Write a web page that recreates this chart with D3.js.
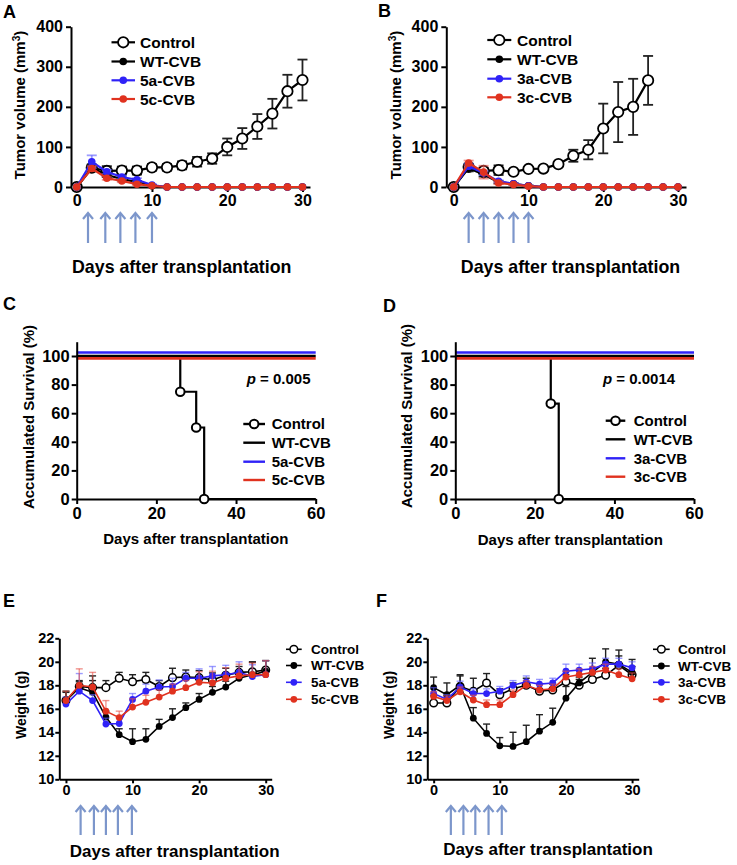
<!DOCTYPE html>
<html><head><meta charset="utf-8">
<script src="https://cdn.jsdelivr.net/npm/d3@7"></script>
<style>body{margin:0;background:#fff}svg{display:block;font-family:"Liberation Sans",Arial,sans-serif;font-weight:bold}</style>
</head><body><svg id="c" width="737" height="865"></svg>
<script>
// ---------------- DATA ----------------
const days  = [0,2,4,6,8,10,12,14,16,18,20,22,24,26,28,30];
const daysB = [0,2,4,6,8,10,12,14,16,18,20,22,24,26];
const treatDaysA = [1.5,3.8,5.8,7.8,10];
const treatDaysB = [2,4,6,8,10];
const treatDaysE = [2.2,4.2,6,7.8,9.9];
const treatDaysF = [2.6,4.5,6.3,8.3,10.3];

// Panel A tumor volume
const namesA = ["Control","WT-CVB","5a-CVB","5c-CVB"];
const ctrlA    = [0,48,40,41,41,49,49,54,63,71,100,121,151,183,239,267];
const ctrlAErr = [0,8,12,10,10,8,8,10,12,13,21,26,31,37,41,51];
const wtA      = [0,48,30,20,12,3,0,0,0,0,0,0,0,0,0,0];
const wtAErr   = [0,6,5,4,3,2,0,0,0,0,0,0,0,0,0,0];
const a5A      = [0,63,38,25,18,5,0,0,0,0,0,0,0,0,0,0];
const a5AErr   = [0,16,5,4,4,2,0,0,0,0,0,0,0,0,0,0];
const c5A      = [0,46,22,15,7,3,0,0,0,0,0,0,0,0,0,0];
const c5AErr   = [0,6,4,3,2,1,0,0,0,0,0,0,0,0,0,0];

// Panel B tumor volume
const namesB = ["Control","WT-CVB","3a-CVB","3c-CVB"];
const ctrlB    = [0,50,40,42,38,45,46,57,78,93,146,187,200,266];
const ctrlBErr = [0,8,8,12,5,5,5,5,15,24,62,75,70,61];
const wtB      = [0,47,31,12,8,3,0,0,0,0,0,0,0,0,0,0];
const wtBErr   = [0,8,5,3,2,1,0,0,0,0,0,0,0,0,0,0];
const a3B      = [0,52,35,14,8,3,0,0,0,0,0,0,0,0,0,0];
const a3BErr   = [0,6,5,3,2,1,0,0,0,0,0,0,0,0,0,0];
const c3B      = [0,60,37,10,6,2,0,0,0,0,0,0,0,0,0,0];
const c3BErr   = [0,6,16,3,2,1,0,0,0,0,0,0,0,0,0,0];

// Panel C / D survival
const namesC = ["Control","WT-CVB","5a-CVB","5c-CVB"];
const survCtrlCDays = [0,26,30,32,60];
const survCtrlC     = [100,75,50,0,0];
const survCtrlCMarkDays = [26,30,32];
const survCtrlCMark     = [75,50,0];
const namesD = ["Control","WT-CVB","3a-CVB","3c-CVB"];
const survCtrlDDays = [0,24,26,60];
const survCtrlD     = [100,66.7,0,0];
const survCtrlDMarkDays = [24,26];
const survCtrlDMark     = [66.7,0];
const survTreatDays = [0,60];
const survTreat     = [100,100];
const pC = "0.005";
const pD = "0.0014";

// Panel E weight
const namesE = ["Control","WT-CVB","5a-CVB","5c-CVB"];
const ctrlE    = [16.7,17.9,17.8,17.8,18.6,18.3,18.5,17.9,18.65,18.7,18.65,18.45,18.85,19.1,19.15,19.3];
const ctrlEErr = [0.8,0.5,0.6,0.6,0.5,0.6,0.6,0.5,0.8,0.6,0.6,0.6,0.6,0.5,0.8,0.8];
const wtE      = [16.7,17.8,17.4,15.3,13.8,13.2,13.4,14.5,15.25,16.1,16.8,17.4,17.85,18.6,18.9,19.2];
const wtEErr   = [0.7,0.5,1.4,0.5,0.5,1.1,0.9,0.6,0.75,0.4,0.5,0.5,0.5,0.6,1.1,0.9];
const a5E      = [16.4,17.5,16.7,14.7,14.75,16.8,17.5,17.85,17.9,18.6,18.6,18.8,18.9,19.1,18.75,18.9];
const a5EErr   = [0.6,1.5,0.5,0.5,0.5,0.5,0.6,0.6,0.7,0.5,0.8,0.8,0.8,0.9,1.0,1.2];
const c5E      = [16.7,18.0,17.85,15.8,15.25,16.15,16.55,17.0,17.5,17.8,18.25,18.2,18.6,18.8,18.9,18.9];
const c5EErr   = [0.8,1.4,1.25,0.9,0.55,0.7,0.6,0.6,0.6,0.6,0.9,1.0,0.9,1.0,1.0,1.2];

// Panel F weight
const namesF = ["Control","WT-CVB","3a-CVB","3c-CVB"];
const ctrlF    = [16.5,16.5,17.9,17.5,18.2,17.2,17.7,18.0,17.5,17.6,18.3,18.0,18.5,18.85,19.7,18.9];
const ctrlFErr = [0.6,0.6,0.9,1.1,0.8,0.5,0.5,0.6,0.6,0.5,0.6,0.5,0.6,0.6,0.8,0.7];
const wtF      = [17.8,17.2,18.0,15.2,13.9,12.85,12.8,13.2,14.1,14.85,16.9,18.2,19.1,20.0,19.8,19.1];
const wtFErr   = [0.9,1.0,0.9,0.9,0.8,0.7,1.2,1.4,1.4,1.2,1.0,0.5,1.2,1.1,1.2,1.1];
const a3F      = [17.3,16.8,17.85,17.3,17.3,17.5,18.0,18.3,18.1,18.2,19.2,19.3,19.4,19.8,19.8,19.5];
const a3FErr   = [0.5,0.4,0.5,0.4,0.4,0.4,0.4,0.5,0.4,0.4,0.6,0.5,0.5,0.5,0.5,0.5];
const c3F      = [17.05,16.7,17.45,16.75,16.35,16.35,17.2,18.0,17.6,17.7,18.7,18.9,19.1,19.3,18.9,18.55];
const c3FErr   = [0.4,0.4,0.4,0.4,0.4,0.4,0.4,0.4,0.4,0.4,0.5,0.5,0.5,0.5,0.5,0.5];

const tumorTicks = [0,100,200,300,400];
const dayTicks30 = [0,10,20,30];
const survTicks  = [0,20,40,60,80,100];
const dayTicks60 = [0,20,40,60];
const weightTicks = [10,12,14,16,18,20,22];

// ---------------- STYLE ----------------
const BLUE = "#2f22f7", RED = "#e0321f", BLACK = "#000", ARROW = "#7c96cb";
const svg = d3.select("#c");

function styleAxis(sel, fs){
  sel.select(".domain").attr("stroke","#000").attr("stroke-width",2);
  sel.selectAll(".tick line").attr("stroke","#000").attr("stroke-width",2);
  sel.selectAll(".tick text").attr("fill","#000").attr("font-size",fs).attr("font-weight","bold")
     .attr("font-family","'Liberation Sans',Arial,sans-serif");
}

function linePanel(o){
  const x = d3.scaleLinear().domain(o.xDomain).range(o.xRange);
  const y = d3.scaleLinear().domain(o.yDomain).range(o.yRange);
  const g = svg.append("g");
  g.append("g").attr("transform",`translate(0,${o.yRange[0]})`)
    .call(d3.axisBottom(x).tickValues(o.xTicks).tickSize(o.tick).tickPadding(o.pad).tickSizeOuter(0))
    .call(s=>styleAxis(s,o.tfs));
  g.append("g").attr("transform",`translate(${o.xRange[0]},0)`)
    .call(d3.axisLeft(y).tickValues(o.yTicks).tickSize(o.tick).tickPadding(o.pad).tickSizeOuter(0))
    .call(s=>styleAxis(s,o.tfs));
  const line = d3.line().x(d=>x(d[0])).y(d=>y(d[1]));
  o.series.forEach(s=>{
    const pts = s.vals.map((v,i)=>[s.days[i],v,s.errs[i]]);
    const eg = g.append("g").attr("stroke",s.errColor).attr("stroke-width",o.errW);
    pts.forEach(p=>{
      if(!p[2]) return;
      const top = y(p[1]+p[2]), bot = o.errMode==="both" ? Math.min(y(p[1]-p[2]), y(o.yDomain[0])) : y(p[1]);
      eg.append("line").attr("x1",x(p[0])).attr("x2",x(p[0])).attr("y1",top).attr("y2",bot);
      eg.append("line").attr("x1",x(p[0])-o.cap).attr("x2",x(p[0])+o.cap).attr("y1",top).attr("y2",top);
      if(o.errMode==="both" && p[1]-p[2] > o.yDomain[0])
        eg.append("line").attr("x1",x(p[0])-o.cap).attr("x2",x(p[0])+o.cap).attr("y1",bot).attr("y2",bot);
    });
    g.append("path").datum(pts).attr("d",line).attr("fill","none").attr("stroke",s.color).attr("stroke-width",o.lineW);
    g.append("g").selectAll("circle").data(pts).join("circle")
      .attr("cx",d=>x(d[0])).attr("cy",d=>y(d[1]))
      .attr("r",s.open?o.openR:o.dotR)
      .attr("fill",s.open?"#fff":s.color)
      .attr("stroke",s.color).attr("stroke-width",s.open?o.openSW:0);
  });
  // legend
  const L = o.legend;
  o.series.forEach((s,i)=>{
    const yy = L.ys[i];
    g.append("line").attr("x1",L.x1).attr("x2",L.x2).attr("y1",yy).attr("y2",yy).attr("stroke",s.color).attr("stroke-width",o.lineW);
    g.append("circle").attr("cx",(L.x1+L.x2)/2).attr("cy",yy).attr("r",s.open?o.openR:o.dotR)
      .attr("fill",s.open?"#fff":s.color).attr("stroke",s.color).attr("stroke-width",s.open?o.openSW:0);
    g.append("text").attr("x",L.tx).attr("y",yy).attr("dy","0.36em").attr("font-size",L.fs).text(s.name);
  });
  // treatment arrows
  const ag = g.append("g").attr("stroke",ARROW).attr("stroke-width",2.2).attr("fill","none");
  o.arrows.forEach(d=>{
    const ax = x(d);
    ag.append("line").attr("x1",ax).attr("x2",ax).attr("y1",o.arrowY[1]).attr("y2",o.arrowY[0]+1);
    ag.append("path").attr("d",`M${ax-5},${o.arrowY[0]+6}L${ax},${o.arrowY[0]}L${ax+5},${o.arrowY[0]+6}`);
  });
  // titles
  g.append("text").attr("x",o.xTitle[0]).attr("y",o.xTitle[1]).attr("dy","0.36em").attr("text-anchor","middle")
    .attr("font-size",o.xTitle[2]).text("Days after transplantation");
  const yt = g.append("text").attr("transform",`translate(${o.yTitle[0]},${o.yTitle[1]}) rotate(-90)`)
    .attr("dy","0.36em").attr("text-anchor","middle").attr("font-size",o.yTitle[2]);
  if(o.yLabelSup){
    yt.append("tspan").text(o.yLabel);
    yt.append("tspan").attr("font-size",o.yTitle[2]*0.68).attr("dy","-0.5em").text(o.yLabelSup);
    yt.append("tspan").attr("dy","0.34em").text(")");
  } else yt.text(o.yLabel);
}

function survPanel(o){
  const x = d3.scaleLinear().domain([0,60]).range(o.xRange);
  const y = d3.scaleLinear().domain([0,110]).range(o.yRange);
  const g = svg.append("g");
  const line = d3.line().x(d=>x(d[0])).y(d=>y(d[1])).curve(d3.curveStepAfter);
  // treated groups (all 100%); small vertical offsets keep overlapping lines visible
  const treated = [{c:BLACK,off:0},{c:BLUE,off:-3.5},{c:RED,off:2.4}];
  // control
  const cpts = o.cDays.map((d,i)=>[d,o.cVals[i]]);
  g.append("path").datum(cpts).attr("d",line).attr("fill","none").attr("stroke","#000").attr("stroke-width",2.2);
  treated.forEach(t=>{
    g.append("path").datum(survTreatDays.map((d,i)=>[d,survTreat[i]])).attr("d",line)
      .attr("transform",`translate(0,${t.off})`).attr("fill","none").attr("stroke",t.c).attr("stroke-width",2.6);
  });
  g.append("g").attr("transform",`translate(0,${o.yRange[0]})`)
    .call(d3.axisBottom(x).tickValues(dayTicks60).tickSize(5).tickPadding(3).tickSizeOuter(0))
    .call(s=>styleAxis(s,16.5));
  g.append("g").attr("transform",`translate(${o.xRange[0]},0)`)
    .call(d3.axisLeft(y).tickValues(survTicks).tickSize(5).tickPadding(2).tickSizeOuter(0))
    .call(s=>styleAxis(s,16.5));
  g.selectAll("circle.m").data(o.mDays.map((d,i)=>[d,o.mVals[i]])).join("circle")
    .attr("cx",d=>x(d[0])).attr("cy",d=>y(d[1])).attr("r",4.3).attr("fill","#fff").attr("stroke","#000").attr("stroke-width",2);
  // p value
  const pt = g.append("text").attr("x",o.p[0]).attr("y",o.p[1]).attr("dy","0.36em").attr("font-size",15);
  pt.append("tspan").attr("font-style","italic").text("p");
  pt.append("tspan").text(" = " + o.pText);
  // legend
  const L = o.legend;
  const cols = [BLACK,BLACK,BLUE,RED];
  o.names.forEach((n,i)=>{
    const yy = L.ys[i];
    g.append("line").attr("x1",L.x1).attr("x2",L.x2).attr("y1",yy).attr("y2",yy).attr("stroke",cols[i]).attr("stroke-width",2.4);
    if(i===0) g.append("circle").attr("cx",(L.x1+L.x2)/2).attr("cy",yy).attr("r",4.3).attr("fill","#fff").attr("stroke","#000").attr("stroke-width",2);
    g.append("text").attr("x",L.tx).attr("y",yy).attr("dy","0.36em").attr("font-size",15).text(n);
  });
  g.append("text").attr("x",o.xTitle[0]).attr("y",o.xTitle[1]).attr("dy","0.36em").attr("text-anchor","middle")
    .attr("font-size",15).text("Days after transplantation");
  g.append("text").attr("transform",`translate(${o.yTitle[0]},${o.yTitle[1]}) rotate(-90)`)
    .attr("dy","0.36em").attr("text-anchor","middle").attr("font-size",15).text("Accumulated Survival (%)");
}

function mk(names, days1, ser){ // ser: [vals, errs] x4
  const cols = [BLACK,BLACK,BLUE,RED];
  const errCols = ["#222","#222","rgba(90,90,255,0.6)","rgba(230,80,70,0.6)"];
  return names.map((n,i)=>({name:n, days: i===0?days1:days, vals:ser[i][0], errs:ser[i][1],
     color:cols[i], errColor:errCols[i], open:i===0}));
}

// ---------------- PANELS ----------------
const tumorCommon = {yDomain:[0,400], yRange:[187,26.7], yTicks:tumorTicks, xTicks:dayTicks30,
  tick:5, pad:3, tfs:16, lineW:2.2, errW:1.8, cap:5, errMode:"both", openR:5.2, openSW:1.8, dotR:3.8,
  yLabel:"Tumor volume (mm", yLabelSup:"3"};

linePanel(Object.assign({}, tumorCommon, {
  xDomain:[-0.76,31], xRange:[71,310],
  series: mk(namesA, days, [[ctrlA,ctrlAErr],[wtA,wtAErr],[a5A,a5AErr],[c5A,c5AErr]]),
  legend:{x1:111.5,x2:135,tx:140,ys:[42.3,61.5,80.3,99],fs:15.5},
  arrows:treatDaysA, arrowY:[213,243],
  xTitle:[181.7,267,17.8], yTitle:[19.5,105,15]
}));
linePanel(Object.assign({}, tumorCommon, {
  xDomain:[-0.99,31.07], xRange:[446.3,686],
  series: mk(namesB, daysB, [[ctrlB,ctrlBErr],[wtB,wtBErr],[a3B,a3BErr],[c3B,c3BErr]]),
  legend:{x1:487.3,x2:511.3,tx:517,ys:[40,59.3,78.7,97.3],fs:15.5},
  arrows:treatDaysB, arrowY:[213,243],
  xTitle:[570.5,267,17.8], yTitle:[395.3,105,15]
}));

survPanel({xRange:[76.7,315.7], yRange:[499,341.7], cDays:survCtrlCDays, cVals:survCtrlC,
  mDays:survCtrlCMarkDays, mVals:survCtrlCMark, p:[246.7,379], pText:pC, names:namesC,
  legend:{x1:243.3,x2:265,tx:271.7,ys:[424,442.7,461.7,480]},
  xTitle:[195.8,538.5], yTitle:[28.3,417]});
survPanel({xRange:[455.3,694], yRange:[499,341.7], cDays:survCtrlDDays, cVals:survCtrlD,
  mDays:survCtrlDMarkDays, mVals:survCtrlDMark, p:[603,379], pText:pD, names:namesD,
  legend:{x1:605.7,x2:625.3,tx:633.7,ys:[420.7,439.3,458.3,476.7]},
  xTitle:[570.3,539.3], yTitle:[407,416]});

const weightCommon = {yDomain:[10,22], yRange:[779.3,638.3], yTicks:weightTicks, xTicks:dayTicks30,
  tick:4, pad:1, tfs:14.5, lineW:1.6, errW:1.4, cap:3.5, errMode:"up", openR:3.8, openSW:1.5, dotR:3.4,
  yLabel:"Weight (g)"};
linePanel(Object.assign({}, weightCommon, {
  xDomain:[-1.0,30.9], xRange:[59.3,271.7],
  series: mk(namesE, days, [[ctrlE,ctrlEErr],[wtE,wtEErr],[a5E,a5EErr],[c5E,c5EErr]]),
  legend:{x1:286,x2:301.7,tx:311,ys:[649.3,665.5,682.3,699.3],fs:13.5},
  arrows:treatDaysE, arrowY:[806,835],
  xTitle:[174.7,850.7,17], yTitle:[20.7,705,14]
}));
linePanel(Object.assign({}, weightCommon, {
  xDomain:[-0.96,31.0], xRange:[427.3,638.7],
  series: mk(namesF, days, [[ctrlF,ctrlFErr],[wtF,wtFErr],[a3F,a3FErr],[c3F,c3FErr]]),
  legend:{x1:653,x2:669.7,tx:678,ys:[649.3,666,682.3,699.3],fs:13.5},
  arrows:treatDaysF, arrowY:[806,835],
  xTitle:[548,849,17], yTitle:[388.7,705,14]
}));

// panel letters
[["A",3,18],["B",378,17],["C",3,310],["D",383,312],["E",3,607],["F",376,607]].forEach(l=>{
  svg.append("text").attr("x",l[1]).attr("y",l[2]).attr("font-size",18).text(l[0]);
});
</script></body></html>
